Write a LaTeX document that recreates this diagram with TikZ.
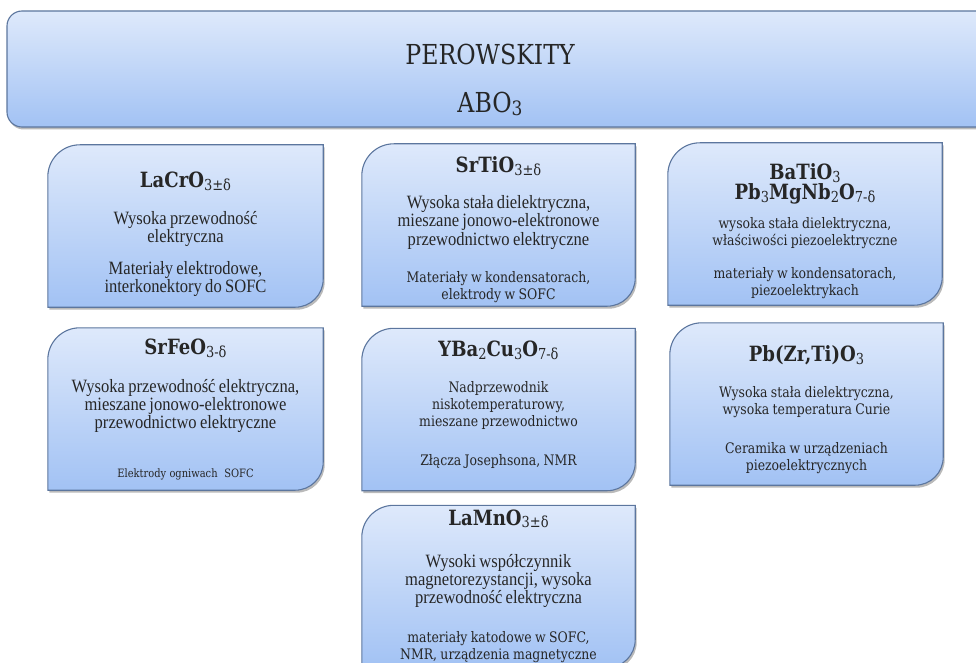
\documentclass[tikz,border=0pt]{standalone}
\usepackage{fontspec}
\setmainfont[FakeStretch=0.88]{Liberation Serif}
\newfontfamily\cent[FakeStretch=0.86]{DejaVu Serif}
\usepackage{xcolor}
\usepackage{tikz}
\usetikzlibrary{shadows, positioning}
\pgfdeclarelayer{background}
\pgfsetlayers{background,main}

\definecolor{kafeltop}{RGB}{222,233,251}
\definecolor{kafelbot}{RGB}{162,194,244}
\definecolor{kafelline}{RGB}{92,118,158}

\newcommand{\ind}[1]{\raisebox{-0.12em}{\scalebox{0.72}{\mdseries #1}}}
\newcommand{\nag}[1]{{\cent\bfseries\fontsize{21}{20}\selectfont #1\par}}
\newcommand{\tms}[1]{{\fontsize{18.8}{18.2}\selectfont #1\par}}
\newcommand{\cnt}[1]{{\cent\fontsize{14.5}{17}\selectfont #1\par}}
\newcommand{\kafeltlo}[1]{\path[tlo] (#1.south west) -- ([yshift=-32pt]#1.north west) arc[start angle=180, end angle=90, radius=32pt] -- (#1.north east) -- ([yshift=28pt]#1.south east) arc[start angle=0, end angle=-90, radius=28pt] -- cycle;}

\tikzset{
  kafel/.style={align=center, text width=272pt, minimum width=275pt, minimum height=162pt, inner sep=0pt, text=black!85},
  tlo/.style={draw=kafelline, line width=1.1pt, top color=kafeltop, bottom color=kafelbot,
    drop shadow={shadow xshift=1.5pt, shadow yshift=-2.5pt, opacity=0.45, fill=black!60}}
}

\begin{document}
\begin{tikzpicture}[x=1pt, y=1pt]
    \useasboundingbox (0,0) rectangle (976,-663);
    \clip (0,0) rectangle (976,-663);

    \node [align=center, text width=400pt, inner sep=0pt, text=black!85] (perowskity) at (490,-80) {
      {\cent\fontsize{27.5}{48}\selectfont PEROWSKITY\\ ABO\ind{3}\par}
    };

    \node [kafel, text height=42.5pt, text depth=119.5pt] (lacro) at (185.5,-226) {
      \nag{LaCrO\ind{3±δ}}\vspace{18.3pt}
      \tms{Wysoka przewodność\\ elektryczna}\vspace{13.8pt}
      \tms{Materiały elektrodowe,\\ interkonektory do SOFC}
    };
    \node [kafel, minimum width=273pt, text height=28.5pt, text depth=133.5pt] (srtio) at (498.5,-225) {
      \nag{SrTiO\ind{3±δ}}\vspace{18pt}
      \tms{Wysoka stała dielektryczna,\\ mieszane jonowo-elektronowe\\ przewodnictwo elektryczne}\vspace{20pt}
      \cnt{Materiały w kondensatorach,\\ elektrody w SOFC}
    };
    \node [kafel, minimum width=274pt, text height=36.5pt, text depth=125.5pt] (batio) at (805,-224) {
      \nag{BaTiO\ind{3}\\ Pb\ind{3}MgNb\ind{2}O\ind{7-δ}}\vspace{11.5pt}
      \cnt{wysoka stała dielektryczna,\\ właściwości piezoelektryczne}\vspace{16pt}
      \cnt{materiały w kondensatorach,\\ piezoelektrykach}
    };

    \node [kafel, text height=26.5pt, text depth=135.5pt] (srfeo) at (185.5,-409) {
      \nag{SrFeO\ind{3-δ}}\vspace{19.3pt}
      \tms{Wysoka przewodność elektryczna,\\ mieszane jonowo-elektronowe\\ przewodnictwo elektryczne}\vspace{35.5pt}
      {\cent\fontsize{11.5}{12}\selectfont Elektrody ogniwach~~SOFC\par}
    };
    \node [kafel, minimum width=273pt, text height=28pt, text depth=134pt] (ybco) at (498.5,-409.5) {
      \nag{YBa\ind{2}Cu\ind{3}O\ind{7-δ}}\vspace{18.5pt}
      \cnt{Nadprzewodnik\\ niskotemperaturowy,\\ mieszane przewodnictwo}\vspace{22pt}
      \cnt{Złącza Josephsona, NMR}
    };
    \node [kafel, minimum width=273pt, text height=38.5pt, text depth=123.5pt] (pzt) at (806.5,-404) {
      \nag{Pb(Zr,Ti)O\ind{3}}\vspace{18.5pt}
      \cnt{Wysoka stała dielektryczna,\\ wysoka temperatura Curie}\vspace{22pt}
      \cnt{Ceramika w urządzeniach\\ piezoelektrycznych}
    };

    \node [kafel, minimum width=273pt, text height=19.5pt, text depth=142.5pt] (lamno) at (498.5,-586.5) {
      \nag{LaMnO\ind{3±δ}}\vspace{23.8pt}
      \tms{Wysoki współczynnik\\ magnetorezystancji, wysoka\\ przewodność elektryczna}\vspace{22pt}
      \cnt{materiały katodowe w SOFC,\\ NMR, urządzenia magnetyczne}
    };

    \begin{pgfonlayer}{background}
      \path [tlo, rounded corners=15pt] (7,-11) rectangle (1000,-127);
      \foreach \k in {lacro, srtio, batio, srfeo, ybco, pzt, lamno} {\kafeltlo{\k}}
    \end{pgfonlayer}
\end{tikzpicture}
\end{document}
